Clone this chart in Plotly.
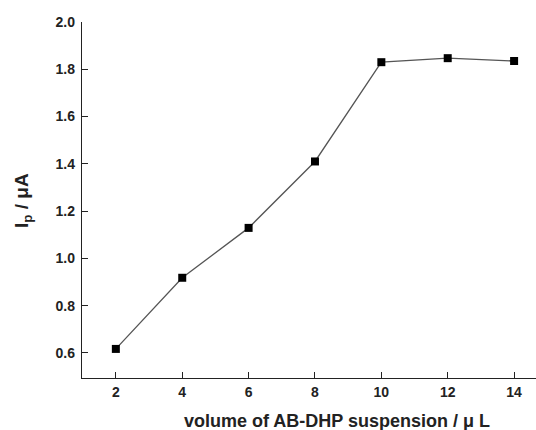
import plotly.graph_objects as go

volume_uL = [2, 4, 6, 8, 10, 12, 14]
peak_current_uA = [0.617, 0.918, 1.129, 1.41, 1.83, 1.847, 1.835]
x_tick_vals = [2, 4, 6, 8, 10, 12, 14]
y_tick_vals = [0.6, 0.8, 1.0, 1.2, 1.4, 1.6, 1.8, 2.0]
y_tick_text = ["0.6", "0.8", "1.0", "1.2", "1.4", "1.6", "1.8", "2.0"]

FONT = "Liberation Sans, Arial, sans-serif"

fig = go.Figure()
fig.add_trace(go.Scatter(
    x=volume_uL, y=peak_current_uA, mode="lines+markers",
    line=dict(color="#555555", width=1.3),
    marker=dict(symbol="square", size=8, color="black"),
    showlegend=False, cliponaxis=False, hoverinfo="skip",
))

fig.update_layout(
    width=536, height=430,
    margin=dict(l=82, r=0, t=22, b=52, autoexpand=False),
    plot_bgcolor="white", paper_bgcolor="white",
    font=dict(family=FONT, size=14, color="#222222", weight="bold"),
)
fig.update_xaxes(
    range=[0.98, 14.66], tickvals=x_tick_vals,
    showline=True, linecolor="#222222", linewidth=1.3,
    ticks="inside", ticklen=6, tickcolor="#222222", tickwidth=1.3,
    showgrid=False, zeroline=False, ticklabelstandoff=1, automargin=False,
    tickfont=dict(family=FONT, size=14, weight="bold"),
)
fig.update_yaxes(
    range=[0.494, 2.0], tickvals=y_tick_vals, ticktext=y_tick_text,
    showline=True, linecolor="#222222", linewidth=1.3,
    ticks="inside", ticklen=6, tickcolor="#222222", tickwidth=1.3,
    showgrid=False, zeroline=False, ticklabelstandoff=3, automargin=False,
    tickfont=dict(family=FONT, size=14, weight="bold"),
)

fig.add_annotation(
    text="volume of AB-DHP suspension / \u03bc L",
    xref="paper", yref="paper", x=(336.5 - 82) / 454, y=-0.087,
    xanchor="center", yanchor="top", showarrow=False,
    font=dict(family=FONT, size=18, color="#222222", weight="bold"),
)
fig.add_annotation(
    text="I<sub>p</sub> / \u03bcA",
    xref="paper", yref="paper", x=-0.13, y=0.5,
    xanchor="center", yanchor="middle", showarrow=False, textangle=-90,
    font=dict(family=FONT, size=19, color="#222222", weight="bold"),
)

fig.write_html(
    "out.html",
    config={"displayModeBar": False},
    post_script="document.body.style.margin='0';document.body.style.overflow='hidden';",
)
